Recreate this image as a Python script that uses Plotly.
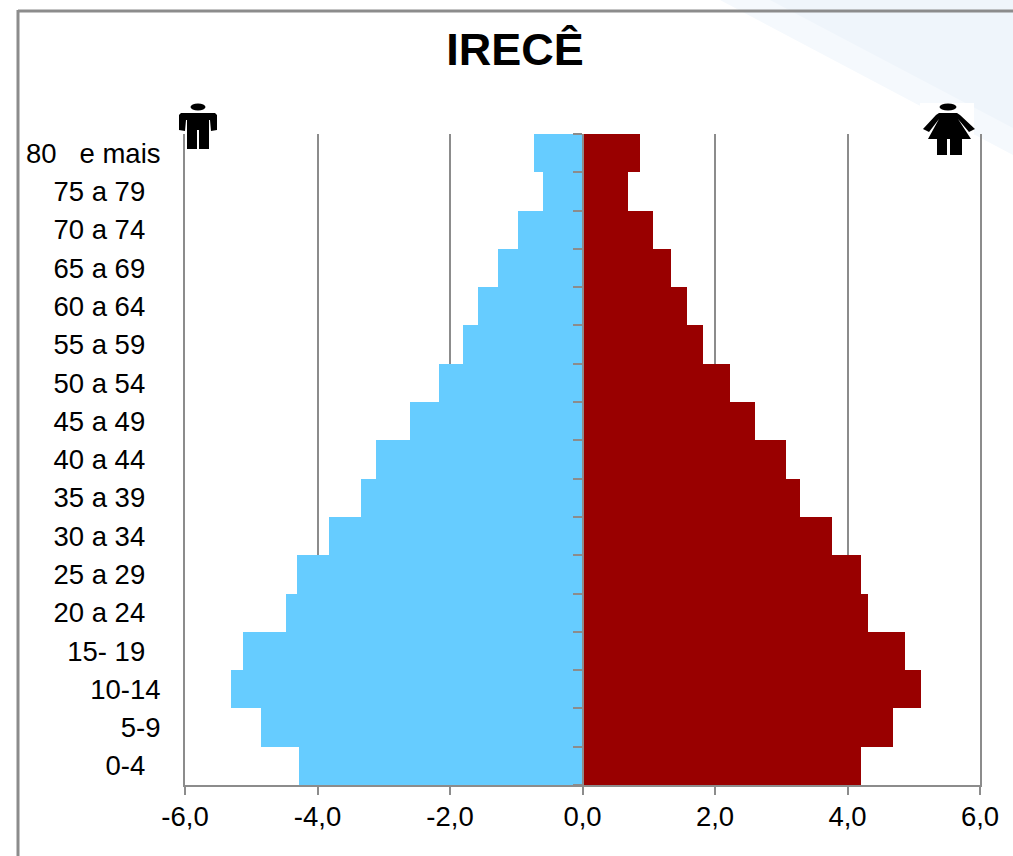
import plotly.graph_objects as go

W, H = 1013, 856
L, R, T, B = 185, 980, 134, 785

age_groups = ["0-4", "5-9", "10-14", "15- 19", "20 a 24", "25 a 29", "30 a 34", "35 a 39", "40 a 44",
              "45 a 49", "50 a 54", "55 a 59", "60 a 64", "65 a 69", "70 a 74", "75 a 79", "80   e mais"]
male = [-4.28, -4.86, -5.31, -5.13, -4.47, -4.31, -3.83, -3.34, -3.11,
        -2.61, -2.17, -1.81, -1.57, -1.28, -0.97, -0.60, -0.73]
female = [4.20, 4.68, 5.11, 4.87, 4.31, 4.20, 3.76, 3.28, 3.07,
          2.60, 2.22, 1.82, 1.57, 1.33, 1.06, 0.68, 0.87]
x_ticks = [-6, -4, -2, 0, 2, 4, 6]
x_labels = ["-6,0", "-4,0", "-2,0", "0,0", "2,0", "4,0", "6,0"]
indented = {"0-4", "15- 19", "20 a 24", "25 a 29", "30 a 34", "35 a 39", "40 a 44", "45 a 49",
            "50 a 54", "55 a 59", "60 a 64", "65 a 69", "70 a 74", "75 a 79"}

GRAY = "#8c8c8c"


def px(x):
    return (x - L) / (R - L)


def py(y):
    return (B - y) / (B - T)


def path(points):
    return "M " + " L ".join(f"{px(x):.5f},{py(y):.5f}" for x, y in points) + " Z"


def paper_shape(d, color, layer="above"):
    return dict(type="path", xref="paper", yref="paper", path=d, fillcolor=color,
                line=dict(width=0), layer=layer)


def head(cx, cy, rx, ry):
    return dict(type="circle", xref="paper", yref="paper", x0=px(cx - rx), x1=px(cx + rx),
                y0=py(cy + ry), y1=py(cy - ry), fillcolor="black", line=dict(width=0), layer="above")


man = [(181, 113), (215, 113), (217, 115), (217, 130), (211, 131), (210, 120), (209, 120), (209, 149), (199, 149),
       (199, 130), (197, 130), (197, 149), (187, 149), (187, 120), (186, 120), (185, 131), (179, 130), (179, 115)]
woman = [(939, 113), (957, 113), (960, 115), (975, 129), (969, 132), (958, 119), (971, 139), (962, 139), (962, 155),
         (950, 155), (950, 139), (947, 139), (947, 155), (937, 155), (937, 139), (928, 139), (939, 119), (929, 132),
         (923, 129), (936, 115)]

shapes = [
    paper_shape(path([(720, 0), (1013, 0), (1013, 155)]), "#f5f9fd", "below"),
    paper_shape(path([(770, 0), (1013, 0), (1013, 128)]), "#eff5fb", "below"),
    paper_shape(path([(920, 103), (974, 103), (974, 134), (920, 134)]), "white", "below"),
    dict(type="line", xref="paper", yref="paper", x0=px(18), x1=px(W), y0=py(11), y1=py(11),
         line=dict(color=GRAY, width=3), layer="below"),
    dict(type="line", xref="paper", yref="paper", x0=px(18), x1=px(18), y0=py(10), y1=py(H),
         line=dict(color=GRAY, width=3), layer="below"),
    paper_shape(path(man), "black"),
    head(198, 107, 7.5, 3.5),
    paper_shape(path(woman), "black"),
    head(948, 107, 8.5, 3.5),
]

fig = go.Figure()
fig.add_bar(x=male, y=age_groups, orientation="h", marker=dict(color="#66CCFF", line=dict(width=0)), name="Homens")
fig.add_bar(x=female, y=age_groups, orientation="h", marker=dict(color="#990000", line=dict(width=0)), name="Mulheres")
fig.add_bar(x=[0] * len(age_groups), y=age_groups, orientation="h", yaxis="y2", showlegend=False, hoverinfo="skip")

fig.update_layout(
    width=W, height=H, autosize=False,
    margin=dict(l=L, r=W - R, t=T, b=H - B, pad=0),
    paper_bgcolor="rgba(0,0,0,0)", plot_bgcolor="rgba(0,0,0,0)",
    font=dict(family="Liberation Sans, Arial, sans-serif", size=27.5, color="black"),
    showlegend=False, barmode="overlay", bargap=0,
    title=dict(text="<b>IRECÊ</b>", x=515 / W, xref="container", xanchor="center",
               y=1 - 49 / H, yanchor="middle", font=dict(size=45)),
    xaxis=dict(range=[-6, 6], tickvals=x_ticks, ticktext=x_labels, ticks="outside", ticklen=8, tickwidth=2,
               tickcolor=GRAY, showline=True, linecolor=GRAY, linewidth=2, showgrid=True, gridcolor=GRAY,
               gridwidth=2, zeroline=False, ticklabelstandoff=-2),
    yaxis=dict(type="category", categoryorder="array", categoryarray=age_groups, tickmode="array",
               tickvals=age_groups,
               ticktext=[a + "\u00a0\u00a0" if a in indented else a for a in age_groups],
               ticks="", showline=True, mirror=True, linecolor=GRAY, linewidth=2, showgrid=False, zeroline=False,
               ticklabelstandoff=17, automargin=False),
    yaxis2=dict(type="category", categoryorder="array", categoryarray=age_groups, overlaying="y", matches="y",
                anchor="free", position=0.5, side="left", showticklabels=False, ticks="outside", ticklen=9,
                tickwidth=2, tickcolor=GRAY, tickson="boundaries", showline=True, linecolor=GRAY, linewidth=2,
                showgrid=False, zeroline=False),
    shapes=shapes,
)
fig.write_html("out.html", config={"displayModeBar": False},
               post_script="document.body.style.margin='0';document.body.style.overflow='hidden';")
